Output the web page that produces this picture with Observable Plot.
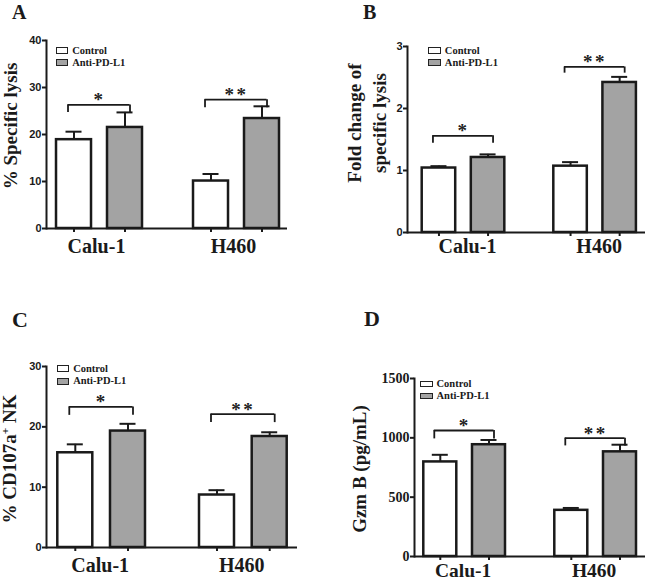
<!DOCTYPE html>
<html><head><meta charset="utf-8">
<script src="https://cdn.jsdelivr.net/npm/d3@7"></script>
<script src="https://cdn.jsdelivr.net/npm/@observablehq/plot@0.6"></script>
<style>
html,body{margin:0;padding:0;background:#fff;}
#page{position:relative;width:645px;height:581px;overflow:hidden;background:#fff;font-family:"Liberation Serif",serif;color:#1a1a1a;}
.panel{position:absolute;}
.letter{position:absolute;font-weight:bold;line-height:1;}
.ylab{position:absolute;font-weight:bold;font-size:19px;line-height:1.25;white-space:nowrap;text-align:center;transform:translate(-50%,-50%) rotate(-90deg);}
.legend{position:absolute;font-weight:bold;font-size:10.5px;line-height:12px;white-space:nowrap;}
.legend .row{display:flex;align-items:center;height:12px;}
.legend .sw{width:12.5px;height:6.5px;border:1.5px solid #222;box-sizing:border-box;margin-right:4px;}
</style></head>
<body><div id="page"></div>
<script>
const cells = ["Calu-1", "H460"];
const groups = ["Control", "Anti-PD-L1"];
const groupFill = ["#ffffff", "#a3a3a3"];
const stars = ["*", "**"];

// A: % Specific lysis
const lysisControl = [18.9, 10.1];
const lysisControlErr = [1.7, 1.5];
const lysisAnti = [21.5, 23.4];
const lysisAntiErr = [3.2, 2.6];
const lysisTicks = [0, 10, 20, 30, 40];
const lysisBracket = [26.3, 27.4];
const lysisBracketLeg = [24.7, 25.7];

// B: Fold change of specific lysis
const foldControl = [1.04, 1.07];
const foldControlErr = [0.03, 0.065];
const foldAnti = [1.21, 2.42];
const foldAntiErr = [0.05, 0.09];
const foldTicks = [0, 1, 2, 3];
const foldBracket = [1.56, 2.67];
const foldBracketLeg = [1.44, 2.57];

// C: % CD107a+ NK
const cd107Control = [15.7, 8.7];
const cd107ControlErr = [1.4, 0.8];
const cd107Anti = [19.3, 18.4];
const cd107AntiErr = [1.2, 0.7];
const cd107Ticks = [0, 10, 20, 30];
const cd107Bracket = [23.3, 22.1];
const cd107BracketLeg = [21.9, 20.7];

// D: Gzm B (pg/mL)
const gzmControl = [797, 389];
const gzmControlErr = [60, 20];
const gzmAnti = [942, 882];
const gzmAntiErr = [40, 60];
const gzmTicks = [0, 500, 1000, 1500];
const gzmBracket = [1062, 997];
const gzmBracketLeg = [991, 932];

const ink = "#1a1a1a";
const page = document.getElementById("page");

function panel(o) {
  const rows = [];
  cells.forEach((c, i) => {
    rows.push({cell: c, group: groups[0], mean: o.control[i], hi: o.control[i] + o.controlErr[i]});
    rows.push({cell: c, group: groups[1], mean: o.anti[i], hi: o.anti[i] + o.antiErr[i]});
  });
  const ctrl = rows.filter(d => d.group === groups[0]);
  const anti = rows.filter(d => d.group === groups[1]);
  const br = cells.map((c, i) => ({cell: c, y: o.bracket[i], leg: o.bracketLeg[i], star: stars[i]}));
  const R = o.width - o.ml - o.mr;
  const step = R / (cells.length - o.pi + 2 * o.po);
  const bw = step * (1 - o.pi);
  const half = bw / 2;
  const bc = half - o.barW / 2;
  const cap = 8;
  const bl = o.barW / 2 - 6, brr = o.barW / 2 - 5;
  const svg = Plot.plot({
    width: o.width, height: o.height,
    marginLeft: o.ml, marginRight: o.mr, marginTop: o.mt, marginBottom: o.mb,
    style: {background: "transparent", overflow: "visible", color: ink},
    x: {type: "band", domain: cells, paddingInner: o.pi, paddingOuter: o.po, align: o.align, round: false},
    y: {domain: [o.ticks[0], o.ticks[o.ticks.length - 1]]},
    marks: [
      Plot.barY(ctrl, {x: "cell", y: "mean", fill: groupFill[0], stroke: ink, strokeWidth: 2.5, insetRight: bw - o.barW}),
      Plot.barY(anti, {x: "cell", y: "mean", fill: groupFill[1], stroke: ink, strokeWidth: 2.5, insetLeft: bw - o.barW}),
      Plot.ruleX(ctrl, {x: "cell", y1: "mean", y2: "hi", dx: -bc, stroke: ink, strokeWidth: 2}),
      Plot.ruleX(anti, {x: "cell", y1: "mean", y2: "hi", dx: bc, stroke: ink, strokeWidth: 2}),
      Plot.tickY(ctrl, {x: "cell", y: "hi", insetLeft: o.barW / 2 - cap, insetRight: bw - o.barW / 2 - cap, stroke: ink, strokeWidth: 2}),
      Plot.tickY(anti, {x: "cell", y: "hi", insetLeft: bw - o.barW / 2 - cap, insetRight: o.barW / 2 - cap, stroke: ink, strokeWidth: 2}),
      Plot.tickY(br, {x: "cell", y: "y", insetLeft: bl, insetRight: brr, stroke: ink, strokeWidth: 1.8}),
      Plot.ruleX(br, {x: "cell", y1: "leg", y2: "y", dx: -(half - bl), stroke: ink, strokeWidth: 1.8}),
      Plot.ruleX(br, {x: "cell", y1: "leg", y2: "y", dx: half - brr, stroke: ink, strokeWidth: 1.8}),
      Plot.text(br, {x: "cell", y: "y", text: "star", lineAnchor: "bottom", dy: 1.5, fontSize: 19, fontWeight: "bold", fontFamily: "Liberation Serif", fill: "#222"}),
      Plot.ruleY([0], {stroke: ink, strokeWidth: 2}),
      Plot.frame({anchor: "left", stroke: ink, strokeWidth: 2}),
      Plot.axisY({ticks: o.ticks, tickFormat: d => String(d), tickSize: 4, tickPadding: 1, strokeWidth: 2, fontSize: o.tickFont, fontWeight: "bold", fontFamily: o.tickFamily, label: null}),
      Plot.axisX({tickSize: 4, fill: "none", dx: -bc, strokeWidth: 2, label: null}),
      Plot.axisX({tickSize: 4, fill: "none", dx: bc, strokeWidth: 2, label: null}),
      Plot.axisX({tickSize: 0, tickPadding: o.labelPad, dx: o.labelDx, fontSize: o.labelFont, fontWeight: "bold", fontFamily: "Liberation Serif", label: null})
    ]
  });
  d3.select(svg).selectAll("text").filter(function () { return this.textContent.includes("*"); })
    .attr("letter-spacing", "2.5px");
  const div = document.createElement("div");
  div.className = "panel";
  div.style.left = o.left + "px";
  div.style.top = o.top + "px";
  div.appendChild(svg);
  page.appendChild(div);

  // panel letter
  const L = document.createElement("div");
  L.className = "letter";
  L.textContent = o.letter;
  L.style.fontSize = o.letterSize + "px";
  L.style.left = o.letterPos[0] + "px";
  L.style.top = (o.letterPos[1] - 0.8375 * o.letterSize) + "px";
  page.appendChild(L);

  // y label
  const Y = document.createElement("div");
  Y.className = "ylab";
  Y.innerHTML = o.ylabel;
  Y.style.left = o.ylabPos[0] + "px";
  Y.style.top = o.ylabPos[1] + "px";
  if (o.ylabLH) Y.style.lineHeight = o.ylabLH + "px";
  page.appendChild(Y);

  // legend
  const G = document.createElement("div");
  G.className = "legend";
  G.style.left = o.legendPos[0] + "px";
  G.style.top = (o.legendPos[1] - 2.75) + "px";
  groups.forEach((g, i) => {
    const row = document.createElement("div");
    row.className = "row";
    row.style.height = o.legendPitch + "px";
    const sw = document.createElement("span");
    sw.className = "sw";
    sw.style.background = groupFill[i];
    const t = document.createElement("span");
    t.textContent = g;
    row.appendChild(sw); row.appendChild(t);
    G.appendChild(row);
  });
  page.appendChild(G);
}

panel({
  letter: "A", letterSize: 20, letterPos: [12, 18.3],
  ylabel: "% Specific lysis", ylabPos: [11, 125.5],
  legendPos: [55.7, 47.3], legendPitch: 12,
  left: 0, top: 0, width: 300, height: 270, ml: 46, mr: 13, mt: 40, mb: 42,
  pi: 0.3723, po: 0.0657, align: 0.556, barW: 35, labelPad: 10.5, labelDx: -3, labelFont: 20,
  tickFont: 11, tickFamily: "Liberation Sans",
  control: lysisControl, controlErr: lysisControlErr, anti: lysisAnti, antiErr: lysisAntiErr,
  ticks: lysisTicks, bracket: lysisBracket, bracketLeg: lysisBracketLeg
});
panel({
  letter: "B", letterSize: 20, letterPos: [363, 18.3],
  ylabel: "Fold change of<br>specific lysis", ylabPos: [367, 122.5], ylabLH: 24.5,
  legendPos: [428.3, 47.3], legendPitch: 12,
  left: 320, top: 0, width: 325, height: 270, ml: 87, mr: 0, mt: 46, mb: 38,
  pi: 0.3723, po: 0.0904, align: 0.618, barW: 33.5, labelPad: 6, labelDx: 4, labelFont: 20,
  tickFont: 11, tickFamily: "Liberation Sans",
  control: foldControl, controlErr: foldControlErr, anti: foldAnti, antiErr: foldAntiErr,
  ticks: foldTicks, bracket: foldBracket, bracketLeg: foldBracketLeg
});
panel({
  letter: "C", letterSize: 22, letterPos: [12, 327.3],
  ylabel: "% CD107a<sup style=\"font-size:0.6em\">+</sup> NK", ylabPos: [10, 459],
  legendPos: [56.7, 365], legendPitch: 12.7,
  left: 0, top: 290, width: 300, height: 291, ml: 46, mr: 3, mt: 76, mb: 34,
  pi: 0.3811, po: 0.0762, align: 0.523, barW: 35, labelPad: 10.5, labelDx: -1.5, labelFont: 20,
  tickFont: 11, tickFamily: "Liberation Sans",
  control: cd107Control, controlErr: cd107ControlErr, anti: cd107Anti, antiErr: cd107AntiErr,
  ticks: cd107Ticks, bracket: cd107Bracket, bracketLeg: cd107BracketLeg
});
panel({
  letter: "D", letterSize: 22, letterPos: [364, 326.7],
  ylabel: "Gzm B (pg/mL)", ylabPos: [360, 468.5],
  legendPos: [420, 380.7], legendPitch: 12,
  left: 320, top: 290, width: 325, height: 291, ml: 94, mr: 0, mt: 88, mb: 25,
  pi: 0.3763, po: 0.0698, align: 0.508, barW: 33, labelPad: 6.5, labelDx: -1.5, labelFont: 19.5,
  tickFont: 14, tickFamily: "Liberation Serif",
  control: gzmControl, controlErr: gzmControlErr, anti: gzmAnti, antiErr: gzmAntiErr,
  ticks: gzmTicks, bracket: gzmBracket, bracketLeg: gzmBracketLeg
});
</script>
</body></html>
